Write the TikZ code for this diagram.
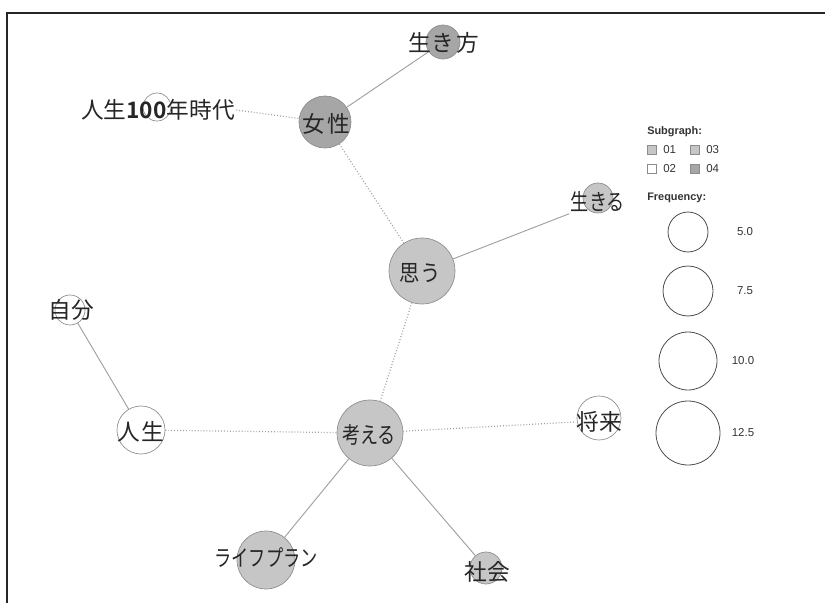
\documentclass[tikz,border=0pt]{standalone}
\usepackage{fontspec}
\setsansfont{Liberation Sans}
\newfontfamily\jp{Noto Sans CJK JP}
\usetikzlibrary{backgrounds}
\definecolor{darkgrp}{HTML}{A6A6A6}
\definecolor{lightgrp}{HTML}{C6C6C6}
\definecolor{rimgray}{HTML}{8C8C8C}
\definecolor{edgegray}{HTML}{A0A0A0}
\begin{document}
\begin{tikzpicture}[x=0.75pt,y=-0.75pt,
  bub/.style={circle, draw=rimgray, line width=0.5pt, inner sep=0pt, minimum size={#1*1.5pt}},
  lbl/.style={inner sep=1pt, font=\jp\fontsize{17}{17}\selectfont, text=black!85},
  solidedge/.style={draw=edgegray, line width=0.7pt},
  dotedge/.style={draw=edgegray, line width=0.9pt, dash pattern=on 0.7pt off 1.5pt},
  legtxt/.style={font=\sffamily\fontsize{8.6}{8.6}\selectfont, text=black!80, inner sep=0pt},
  legbold/.style={font=\sffamily\bfseries\fontsize{8.2}{8.2}\selectfont, text=black!80, inner sep=0pt},
  legbox/.style={draw=rimgray, line width=0.5pt, minimum size=6.5pt, inner sep=0pt},
  legcirc/.style={circle, draw=black!70, line width=0.6pt, inner sep=0pt, minimum size={#1*1.5pt}}]
\useasboundingbox (0,0) rectangle (826,603);
\draw[line width=1.4pt, black!85] (825,13) -- (7,13) -- (7,603);

% bubbles
\node[bub=17, fill=darkgrp] (ikikata) at (443,42) {};
\node[bub=26, fill=darkgrp] (josei) at (325,122) {};
\node[bub=14, fill=white] (jidai) at (157,107) {};
\node[bub=33, fill=lightgrp] (omou) at (422,271) {};
\node[bub=15, fill=lightgrp] (ikiru) at (598,198) {};
\node[bub=15, fill=white] (jibun) at (70,310) {};
\node[bub=24, fill=white] (jinsei) at (141,430) {};
\node[bub=33, fill=lightgrp] (kangaeru) at (370,433) {};
\node[bub=22, fill=white] (shourai) at (599,418) {};
\node[bub=29, fill=lightgrp] (plan) at (266,560) {};
\node[bub=16, fill=lightgrp] (shakai) at (486,568) {};

% labels
\node[lbl] (t-ikikata) at (444,43) {生き\hspace{2pt}方};
\node[lbl] (t-josei) at (326,124) {女\hspace{2pt}性};
\node[lbl] (t-jidai) at (158,110) {人生{\fontspec{Noto Sans CJK JP Bold}100}年時代};
\node[lbl] (t-omou) at (420,273) {\scalebox{0.9}[1]{思う}};
\node[lbl] (t-ikiru) at (598,202) {\scalebox{0.8}[1]{生きる}};
\node[lbl] (t-jibun) at (71,310) {自分};
\node[lbl] (t-jinsei) at (141,432) {人\hspace{1pt}生};
\node[lbl] (t-kangaeru) at (369,435) {\scalebox{0.8}[1]{考える}};
\node[lbl] (t-shourai) at (599,422) {将来};
\node[lbl] (t-plan) at (266,558) {\scalebox{0.76}[1]{ライフプラン}};
\node[lbl] (t-shakai) at (487,572) {社会};

% edges
\begin{pgfonlayer}{background}
\draw[solidedge] (ikikata) -- (josei);
\draw[dotedge] (t-jidai.east) -- (josei);
\draw[dotedge] (josei) -- (omou);
\draw[solidedge] (omou) -- (t-ikiru.south west);
\draw[dotedge] (omou) -- (kangaeru);
\draw[solidedge] (jibun) -- (jinsei);
\draw[dotedge] (jinsei) -- (kangaeru);
\draw[dotedge] (kangaeru) -- (t-shourai.west);
\draw[solidedge] (kangaeru) -- (plan);
\draw[solidedge] (kangaeru) -- (shakai);
\end{pgfonlayer}

% legend
\node[legbold, anchor=west] (subg) at (647,132) {Subgraph:};
\node[legbox, fill=lightgrp] (b01) at (652,150) {};
\node[legtxt, anchor=west] (l01) at (663,150) {01};
\node[legbox, fill=lightgrp] (b03) at (695,150) {};
\node[legtxt, anchor=west] (l03) at (706,150) {03};
\node[legbox, fill=white] (b02) at (652,169) {};
\node[legtxt, anchor=west] (l02) at (663,169) {02};
\node[legbox, fill=darkgrp] (b04) at (695,169) {};
\node[legtxt, anchor=west] (l04) at (706,169) {04};
\node[legbold, anchor=west] (freq) at (647,198) {Frequency:};
\node[legcirc=20] (f1) at (688,232) {};
\node[legtxt] (fl1) at (745,232) {5.0};
\node[legcirc=25] (f2) at (688,291) {};
\node[legtxt] (fl2) at (745,291) {7.5};
\node[legcirc=29] (f3) at (688,361) {};
\node[legtxt] (fl3) at (743,361) {10.0};
\node[legcirc=32] (f4) at (688,433) {};
\node[legtxt] (fl4) at (743,433) {12.5};
\end{tikzpicture}
\end{document}
